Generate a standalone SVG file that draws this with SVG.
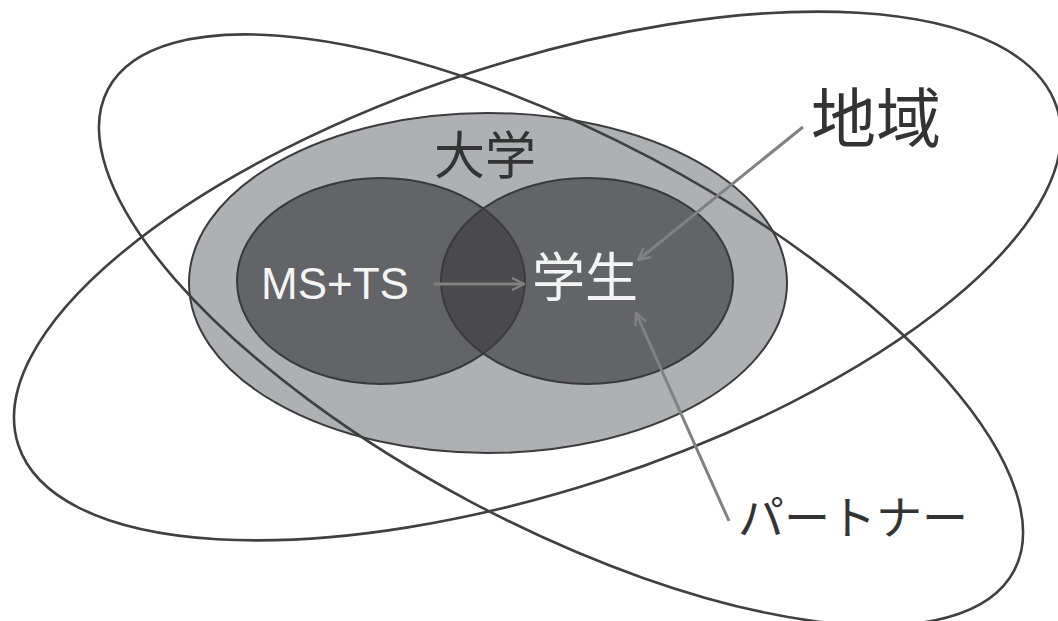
<svg xmlns="http://www.w3.org/2000/svg" width="1058" height="621" viewBox="0 0 1058 621">
  <style>
    .outline { fill: none; stroke: #404040; stroke-width: 2.6; }
    .uni { fill: #afb0b3; stroke: #3c3c3c; stroke-width: 2; }
    .circ { fill: #3e3e40; fill-opacity: 0.667; stroke: #3a3a3a; stroke-width: 2; }
    .conn { fill: none; stroke: #818181; stroke-width: 3; }
    .jp { font-family: "Noto Sans CJK JP", "Noto Sans", sans-serif; }
    .dark { fill: #333333; }
    .light { fill: #f4f4f4; }
  </style>
  <defs>
    <marker id="arr" viewBox="0 0 14 14" refX="13" refY="7" markerWidth="14" markerHeight="14" markerUnits="userSpaceOnUse" orient="auto">
      <path d="M1,1 L13,7 L1,13" fill="none" stroke="#818181" stroke-width="2.4"/>
    </marker>
  </defs>
  <rect width="1058" height="621" fill="#ffffff"/>

  <g id="university">
    <ellipse class="uni" cx="488" cy="283" rx="299" ry="170"/>
    <text class="jp dark" x="434" y="174" font-size="51">大学</text>
  </g>

  <g id="region">
    <ellipse class="outline" cx="561" cy="330" rx="513" ry="194" transform="rotate(28 561 330)"/>
    <text class="jp dark" x="811" y="142" font-size="65">地域</text>
  </g>

  <g id="partner">
    <ellipse class="outline" cx="537.5" cy="276" rx="546" ry="214" transform="rotate(-18 537.5 276)"/>
    <text class="jp dark" x="738" y="534" font-size="46">パートナー</text>
  </g>

  <g id="ms-ts">
    <ellipse class="circ" cx="381" cy="281" rx="144" ry="103"/>
    <text x="261" y="299" font-family="Liberation Sans, Arial, sans-serif" font-size="44" class="light">MS+TS</text>
  </g>

  <g id="students">
    <ellipse class="circ" cx="587" cy="281" rx="146" ry="103"/>
    <text class="jp light" x="532" y="297" font-size="53">学生</text>
  </g>

  <g id="connectors">
    <line class="conn" x1="434" y1="284" x2="524" y2="284" marker-end="url(#arr)"/>
    <line class="conn" x1="803" y1="127" x2="638" y2="260" marker-end="url(#arr)"/>
    <line class="conn" x1="729" y1="521" x2="636" y2="313" marker-end="url(#arr)"/>
  </g>
</svg>
